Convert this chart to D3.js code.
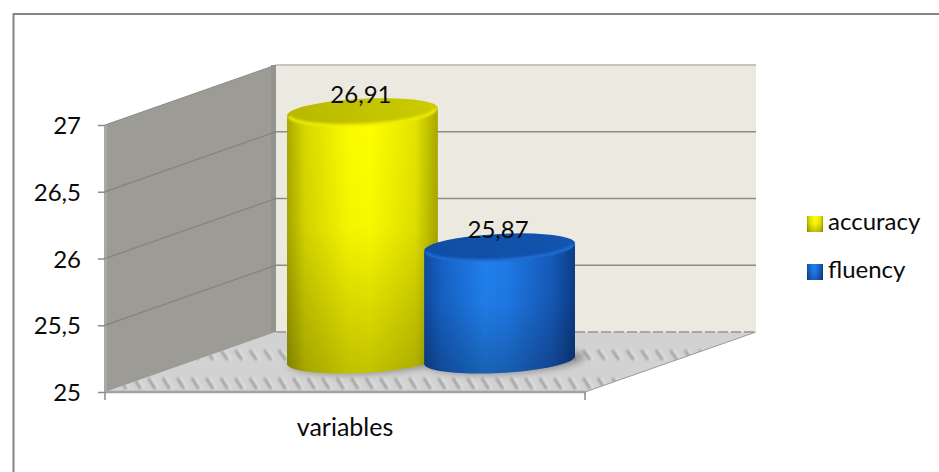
<!DOCTYPE html>
<html>
<head>
<meta charset="utf-8">
<style>
html,body{margin:0;padding:0;background:#fff}
svg{display:block}
text{font-family:Lato,"Open Sans",sans-serif;fill:#0a0a0a}
</style>
<script src="https://cdn.jsdelivr.net/npm/d3@7/dist/d3.min.js"></script>
</head>
<body>
<svg id="chart" width="939" height="472"></svg>
<script>
// Chart values
const seriesNames = ["accuracy", "fluency"];
const seriesValues = [26.91, 25.87];
const categoryLabels = ["variables"];
const valueTicks = [25, 25.5, 26, 26.5, 27];

const svg = d3.select("#chart");
const defs = svg.append("defs");

// Frame: the chart area only shows its top and left rules
svg.append("path").attr("d", "M13.5,472V14H939").attr("fill", "none")
  .attr("stroke", "#858585").attr("stroke-width", 2);

// Scales for the front plane of the 3D box, and the depth offset to the back wall
const y = d3.scaleLinear().domain([25, 27]).range([392, 125]);
const x = d3.scaleBand().domain(categoryLabels).range([105, 585]);
const depth = {dx: 171, dy: -60};
const backRight = x.range()[1] + depth.dx;

// Cylinders stand mid-way into the box, so their scale differs from the front plane
const barY = d3.scaleLinear().domain([25, 27]).range([360, 100]);
const barX = d3.scaleBand().domain(seriesNames).range([287, 575]).paddingInner(-0.1);

const x0 = x.range()[0], x1 = x.range()[1], yb = y(25), yt = y(27);

defs.append("filter").attr("id", "soft").append("feGaussianBlur").attr("stdDeviation", 0.6);
defs.append("filter").attr("id", "softer").append("feGaussianBlur").attr("stdDeviation", 1);

// Walls and floor
svg.append("path")
  .attr("d", `M${x0 + depth.dx},${yt + depth.dy}H${backRight}V${yb + depth.dy}H${x0 + depth.dx}Z`)
  .attr("fill", "#ece9e1");
svg.append("path")
  .attr("d", `M${x0 + depth.dx},${yt + depth.dy}H${backRight}`)
  .attr("stroke", "#b5b3ad").attr("stroke-width", 1.5);

const floorPath = `M${x0},${yb}H${x1}L${backRight},${yb + depth.dy}H${x0 + depth.dx}Z`;
svg.append("path").attr("d", floorPath).attr("fill", "#d2d2d2");

// Woven floor texture: two rows of short slanted dashes
defs.append("clipPath").attr("id", "floorClip").append("path").attr("d", floorPath);
const hatchRows = svg.append("g").attr("clip-path", "url(#floorClip)").append("g").attr("filter", "url(#softer)");
[[350, 360], [378, 389]].forEach(([top, bottom]) => {
  const starts = d3.range(x0, backRight, 14.5);
  hatchRows.append("path")
    .attr("d", starts.map(s => `M${s + 2},${top}L${s + 9},${bottom}`).join(""))
    .attr("stroke", "#ececec").attr("stroke-width", 3);
  hatchRows.append("path")
    .attr("d", starts.map(s => `M${s},${top}L${s + 7},${bottom}`).join(""))
    .attr("stroke", "#9c9c9c").attr("stroke-width", 3);
});
svg.append("path").attr("d", `M${x0 + depth.dx},${yb + depth.dy}H${backRight}`)
  .attr("stroke", "#aaa6a0").attr("stroke-width", 2).attr("stroke-dasharray", "10 3");
svg.append("path").attr("d", `M${x0},${yb}H${x1}`).attr("stroke", "#a2a2a2").attr("stroke-width", 2.5);
svg.append("path").attr("d", `M${x1},${yb}L${backRight},${yb + depth.dy}`).attr("stroke", "#9a9a9a");

svg.append("path")
  .attr("d", `M${x0},${yt}L${x0 + depth.dx},${yt + depth.dy}V${yb + depth.dy}L${x0},${yb}Z`)
  .attr("fill", "#9d9b95");
svg.append("rect").attr("x", x0 + depth.dx - 5).attr("y", yt + depth.dy).attr("width", 5).attr("height", yb - yt)
  .attr("fill", "#94948f");
svg.append("path").attr("d", `M${x0},${yt}L${x0 + depth.dx},${yt + depth.dy}`).attr("stroke", "#8a8a86");
svg.append("rect").attr("x", x0 - 1).attr("y", yt).attr("width", 3).attr("height", yb - yt).attr("fill", "#a8a8a4");

// Gridlines run along the left wall and across the back wall
const gridTicks = valueTicks.filter(v => v > 25 && v < 27);
svg.append("g").attr("filter", "url(#soft)").selectAll("path").data(gridTicks).join("path")
  .attr("d", v => `M${x0},${y(v)}L${x0 + depth.dx},${y(v) + depth.dy}`)
  .attr("stroke", "#7f7d78").attr("stroke-width", 1.5).attr("fill", "none").attr("opacity", 0.7);
svg.append("g").selectAll("path").data(gridTicks).join("path")
  .attr("d", v => `M${x0 + depth.dx},${y(v) + depth.dy}H${backRight}`)
  .attr("stroke", "#8f8b80").attr("stroke-width", 1.3).attr("fill", "none");

// Axes
const yAxis = d3.axisLeft(y).tickValues(valueTicks).tickSize(7).tickPadding(17)
  .tickFormat(v => String(v).replace(".", ","));
const yG = svg.append("g").attr("transform", `translate(${x0},0)`).call(yAxis);
yG.select(".domain").remove();
yG.selectAll("line").attr("stroke", "#8a8a8a").attr("stroke-width", 1.5);
yG.selectAll("text").attr("font-size", 24).attr("font-family", null).attr("dy", "0.36em");

const xAxis = d3.axisBottom(x).tickSize(0).tickPadding(26);
const xG = svg.append("g").attr("transform", `translate(0,${yb})`).call(xAxis);
xG.select(".domain").remove();
xG.selectAll("text").attr("font-size", 25).attr("font-family", null);
svg.append("g").selectAll("line").data(x.range()).join("line")
  .attr("x1", d => d).attr("x2", d => d).attr("y1", yb).attr("y2", yb + 8)
  .attr("stroke", "#8a8a8a").attr("stroke-width", 1.5);

// Colour ramps for the cylinders
const palettes = {
  accuracy: {side: ["#a9a900", "#d8d800", "#fbfb00", "#ffff00", "#e4e400", "#a8a800"], top: ["#b8b800", "#cccc00"], rim: "#eded00"},
  fluency: {side: ["#0f4a9e", "#1662c6", "#2080ee", "#1f7ae8", "#1559b8", "#0b3d86"], top: ["#0f4ea6", "#1254ae"], rim: "#1a6ad2"}
};
seriesNames.forEach((name, i) => {
  const p = palettes[name];
  const side = defs.append("linearGradient").attr("id", "side" + i);
  p.side.forEach((c, k) => side.append("stop").attr("offset", [0, .12, .4, .55, .85, 1][k]).attr("stop-color", c));
  const top = defs.append("linearGradient").attr("id", "top" + i);
  p.top.forEach((c, k) => top.append("stop").attr("offset", k).attr("stop-color", c));
});
const shade = defs.append("linearGradient").attr("id", "shade").attr("x1", 0).attr("x2", 0).attr("y1", 0).attr("y2", 1);
shade.append("stop").attr("offset", 0).attr("stop-color", "#000").attr("stop-opacity", 0);
shade.append("stop").attr("offset", .45).attr("stop-color", "#000").attr("stop-opacity", .03);
shade.append("stop").attr("offset", 1).attr("stop-color", "#000").attr("stop-opacity", .24);
defs.append("filter").attr("id", "shadow").attr("x", "-20%").attr("y", "-50%").attr("width", "140%").attr("height", "200%")
  .append("feGaussianBlur").attr("stdDeviation", 3);

// Ellipse outline tilted by the box perspective
const tilt = 0.05, ry = 13;
const ellipsePoints = (cx, cy, rx, from, to) => d3.range(0, 41).map(k => {
  const t = from + (to - from) * k / 40;
  return [cx + rx * Math.cos(t), cy + ry * Math.sin(t) - tilt * rx * Math.cos(t)];
});
const curve = d3.line();

const bars = svg.append("g").selectAll("g").data(seriesNames.map((name, i) => ({name, value: seriesValues[i], i}))).join("g");
bars.each(function (d) {
  const g = d3.select(this);
  const rx = barX.bandwidth() / 2, cx = barX(d.name) + rx;
  const base = barY(25), topY = barY(d.value);
  const lower = ellipsePoints(cx, base, rx, 0, Math.PI);
  const upper = ellipsePoints(cx, topY, rx, Math.PI, 0);
  const body = curve(lower) + "L" + curve(upper).slice(1) + "Z";
  g.append("path").attr("d", curve(ellipsePoints(cx + 6, base + 1, rx + 4, 0, 2 * Math.PI)) + "Z")
    .attr("fill", "#6d6a70").attr("opacity", .6).attr("filter", "url(#shadow)");
  g.append("path").attr("d", body).attr("fill", `url(#side${d.i})`);
  g.append("path").attr("d", body).attr("fill", "url(#shade)");
  // Top face, with a soft highlight on its front edge only
  g.append("path").attr("d", curve(ellipsePoints(cx, topY, rx, 0, 2 * Math.PI)) + "Z")
    .attr("fill", `url(#top${d.i})`);
  g.append("path").attr("d", curve(ellipsePoints(cx, topY, rx - 2, 0.1, Math.PI - 0.1)))
    .attr("fill", "none").attr("stroke", palettes[d.name].rim).attr("stroke-width", 3)
    .attr("filter", "url(#softer)");
});

// Value labels
svg.append("g").selectAll("text").data(seriesValues).join("text")
  .attr("x", (v, i) => barX(seriesNames[i]) + barX.bandwidth() / 2 - 1.5)
  .attr("y", v => barY(v) - 9)
  .attr("text-anchor", "middle").attr("font-size", 24)
  .text(v => String(v).replace(".", ","));

// Legend
const legend = svg.append("g").selectAll("g").data(seriesNames).join("g")
  .attr("transform", (n, i) => `translate(807,${216 + i * 48})`);
legend.append("rect").attr("width", 16).attr("height", 16).attr("fill", (n, i) => `url(#side${i})`);
legend.append("rect").attr("width", 16).attr("height", 16).attr("fill", "url(#shade)");
legend.append("text").attr("x", 21).attr("y", 14).attr("font-size", 24).text(n => n);
</script>
</body>
</html>
